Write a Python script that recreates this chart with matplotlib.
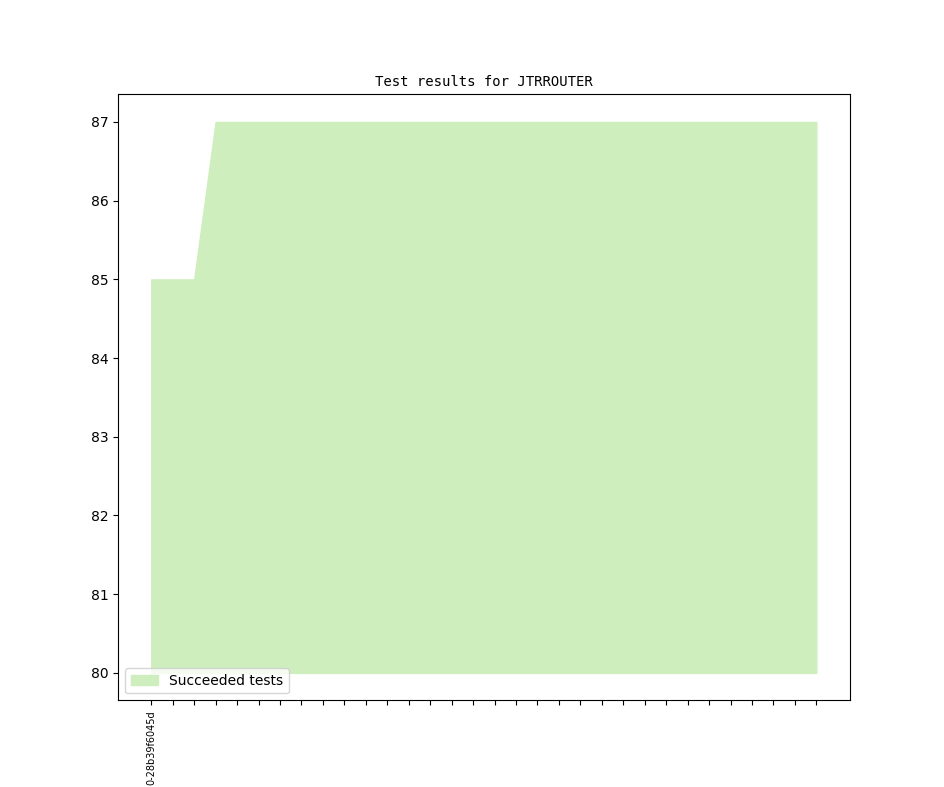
import matplotlib
matplotlib.use('Agg')
import matplotlib.pyplot as plt

# succeeded tests per revision (32 runs)
succeeded = [85, 85, 85] + [87] * 29
revisions = ['0-28b39f6045d'] + [''] * 31

x = list(range(len(succeeded)))

fig, ax = plt.subplots(figsize=(9.44, 7.87), dpi=100)

ax.fill_between(x, 80, succeeded, color='#cfeebe', label='Succeeded tests')
ax.set_title('Test results for JTRROUTER', fontsize=10, family='monospace')
ax.set_xticks(x)
ax.set_xticklabels(revisions, rotation=90, fontsize=7)
ax.legend(loc='lower left')

fig.savefig('out.png', dpi=100)
